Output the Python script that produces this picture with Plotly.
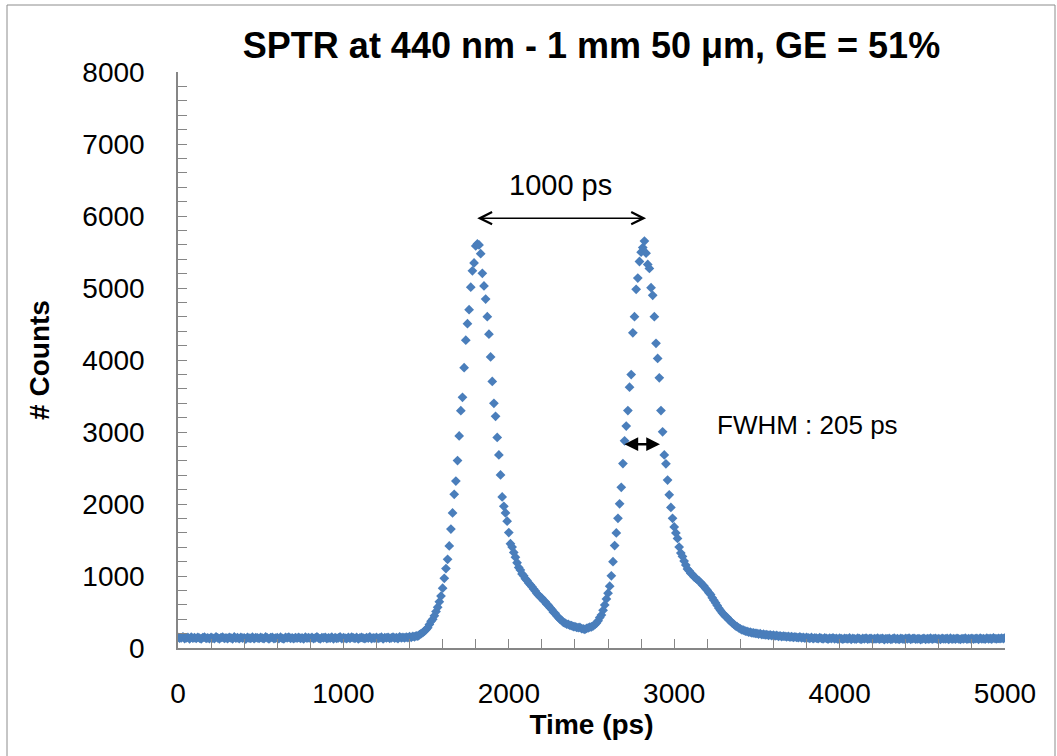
import plotly.graph_objects as go

# Time bins (ps), 10 ps spacing from 0 to 5000
time_ps = list(range(0, 5001, 10))

# Counts (one row = 100 ps)
counts = [
    148, 136, 142, 155, 131, 139, 146, 128, 151, 137,
    143, 133, 149, 138, 126, 145, 152, 134, 140, 129,
    147, 138, 131, 156, 141, 127, 144, 150, 135, 139,
    132, 146, 140, 128, 153, 137, 143, 130, 148, 136,
    141, 125, 149, 138, 134, 151, 129, 145, 139, 133,
    147, 136, 130, 154, 140, 127, 143, 149, 132, 138,
    144, 131, 150, 135, 128, 146, 139, 152, 134, 141,
    129, 145, 137, 148, 133, 140, 126, 151, 138, 143,
    135, 147, 130, 142, 155, 136, 128, 144, 139, 149,
    132, 141, 137, 150, 127, 145, 134, 140, 153, 131,
    143, 138, 129, 146, 135, 152, 140, 133, 147, 126,
    141, 149, 136, 131, 145, 138, 154, 130, 142, 137,
    146, 133, 140, 151, 128, 144, 139, 148, 135, 142,
    150, 137, 145, 132, 156, 141, 147, 139, 152, 144,
    158, 149, 163, 155, 170, 166, 184, 198, 215, 236,
    256, 282, 328, 371, 398, 447, 506, 566, 641, 722,
    831, 968, 1104, 1232, 1418, 1652, 1876, 2134, 2318, 2604,
    2946, 3296, 3482, 3894, 4276, 4504, 4698, 5012, 5238, 5348,
    5584, 5612, 5598, 5476, 5204, 5028, 4846, 4602, 4358, 4042,
    3702, 3398, 3218, 2924, 2682, 2404, 2098, 1968, 1876, 1762,
    1604, 1448, 1402, 1328, 1262, 1184, 1118, 1082, 1028, 1004,
    962, 938, 903, 877, 852, 818, 792, 758, 733, 708,
    692, 658, 643, 607, 592, 558, 533, 497, 482, 447,
    423, 398, 382, 357, 347, 332, 328, 314, 311, 298,
    296, 287, 282, 286, 268, 266, 258, 272, 279, 291,
    293, 306, 323, 347, 378, 422, 458, 523, 598, 682,
    762, 858, 1002, 1198, 1422, 1598, 1802, 2002, 2232, 2562,
    2878, 3082, 3298, 3622, 3798, 4378, 4602, 4982, 5138, 5368,
    5498, 5562, 5652, 5484, 5328, 5272, 5004, 4898, 4602, 4232,
    4022, 3752, 3298, 3002, 2682, 2558, 2332, 2128, 1952, 1802,
    1682, 1598, 1522, 1402, 1318, 1272, 1208, 1152, 1098, 1072,
    1038, 1022, 988, 972, 948, 932, 908, 878, 862, 828,
    802, 768, 742, 698, 662, 628, 592, 553, 522, 488,
    467, 438, 422, 393, 372, 348, 332, 308, 296, 278,
    267, 253, 247, 233, 231, 220, 219, 210, 209, 203,
    202, 194, 198, 187, 191, 182, 186, 176, 181, 172,
    178, 168, 174, 163, 170, 159, 166, 161, 155, 163,
    152, 158, 147, 155, 149, 143, 153, 140, 148, 137,
    146, 139, 134, 147, 131, 141, 136, 129, 143, 135,
    128, 140, 133, 125, 138, 130, 142, 127, 135, 124,
    137, 129, 122, 134, 131, 126, 139, 121, 133, 128,
    124, 136, 130, 119, 132, 127, 138, 123, 129, 134,
    120, 131, 126, 137, 122, 129, 135, 118, 130, 125,
    133, 121, 128, 136, 124, 131, 119, 134, 127, 122,
    132, 126, 138, 120, 129, 135, 123, 128, 131, 118,
    127, 134, 121, 130, 125, 137, 122, 129, 133, 124,
    130, 119, 135, 126, 128, 132, 121, 136, 124, 129,
    123, 134, 127, 120, 131, 126, 137, 122, 130, 128,
    135, 124, 129, 133, 121, 138, 126, 131, 123, 136,
    128, 132, 125, 139, 130, 127, 134, 129, 136, 131,
    142,
]

x_ticks = [0, 1000, 2000, 3000, 4000, 5000]
y_ticks = [0, 1000, 2000, 3000, 4000, 5000, 6000, 7000, 8000]

# Annotation anchors (data units)
sep_arrow = {"x0": 1800, "x1": 2830, "y": 5970, "label": "1000 ps", "label_y": 6430}
fwhm_arrow = {"x0": 2690, "x1": 2914, "y": 2830, "label": "FWHM : 205 ps",
              "label_x": 3245, "label_y": 3100}

W, H = 1057, 756
ML, MR, MT, MB = 178, 52, 72, 108
PW, PH = W - ML - MR, H - MT - MB

def px_to_paper_x(px):
    return (px - ML) / PW

def px_to_paper_y(py):
    return (H - MB - py) / PH

FONT = "Liberation Sans, Arial, sans-serif"
AXIS_COLOR = "#868686"
BLUE = "#4a7ebb"

fig = go.Figure()
fig.add_trace(go.Scatter(
    x=time_ps, y=counts, mode="markers",
    marker=dict(symbol="diamond", size=7.5, color=BLUE, line=dict(width=0)),
    showlegend=False, hoverinfo="x+y",
))

axis_common = dict(
    showgrid=False, zeroline=False, showline=True, linecolor=AXIS_COLOR, linewidth=1.5,
    ticks="inside", ticklen=9, tickwidth=1, tickcolor=AXIS_COLOR,
    tickfont=dict(family=FONT, size=28, color="#000000"),
    minor=dict(ticks="inside", ticklen=9, tickwidth=1, tickcolor=AXIS_COLOR, dtick=200, showgrid=False),
)

fig.update_xaxes(
    range=[0, 5000], tickvals=x_ticks, ticktext=[str(v) for v in x_ticks],
    ticklabelstandoff=20,
    title=dict(text="<b>Time (ps)</b>", font=dict(family=FONT, size=28, color="#000000"), standoff=2),
    **axis_common,
)
fig.update_yaxes(
    range=[0, 8000], tickvals=y_ticks, ticktext=[str(v) for v in y_ticks],
    ticklabelstandoff=26,
    title=dict(text="<b># Counts</b>", font=dict(family=FONT, size=28, color="#000000"), standoff=25),
    **axis_common,
)

annotations = [
    dict(x=sep_arrow["x1"], y=sep_arrow["y"], ax=sep_arrow["x0"], ay=sep_arrow["y"],
         xref="x", yref="y", axref="x", ayref="y", text="", showarrow=True,
         arrowhead=5, arrowside="end+start", arrowsize=1.6, arrowwidth=1.5, arrowcolor="#000000"),
    dict(x=(sep_arrow["x0"] + sep_arrow["x1"]) / 2, y=sep_arrow["label_y"], xref="x", yref="y",
         text=sep_arrow["label"], showarrow=False,
         font=dict(family=FONT, size=29, color="#000000")),
    dict(x=fwhm_arrow["x1"], y=fwhm_arrow["y"], ax=fwhm_arrow["x0"], ay=fwhm_arrow["y"],
         xref="x", yref="y", axref="x", ayref="y", text="", showarrow=True,
         arrowhead=2, arrowside="end+start", arrowsize=1.1, arrowwidth=2.5, arrowcolor="#000000"),
    dict(x=fwhm_arrow["label_x"], y=fwhm_arrow["label_y"], xref="x", yref="y",
         text=fwhm_arrow["label"], showarrow=False, xanchor="left",
         font=dict(family=FONT, size=26, color="#000000")),
]

fig.update_layout(
    width=W, height=H,
    margin=dict(l=ML, r=MR, t=MT, b=MB),
    paper_bgcolor="#ffffff", plot_bgcolor="#ffffff",
    title=dict(text="<b>SPTR at 440 nm - 1 mm 50 μm, GE = 51%</b>",
               font=dict(family=FONT, size=36, color="#000000"),
               x=0.5, xref="paper", xanchor="center",
               y=1 - 45 / H, yref="container", yanchor="middle"),
    annotations=annotations,
    shapes=[dict(type="rect", xref="paper", yref="paper",
                 x0=px_to_paper_x(7), x1=px_to_paper_x(1055),
                 y0=px_to_paper_y(770), y1=px_to_paper_y(5),
                 line=dict(color="#8c8c8c", width=1), fillcolor="rgba(0,0,0,0)", layer="below")],
)

fig.write_html("out.html")
